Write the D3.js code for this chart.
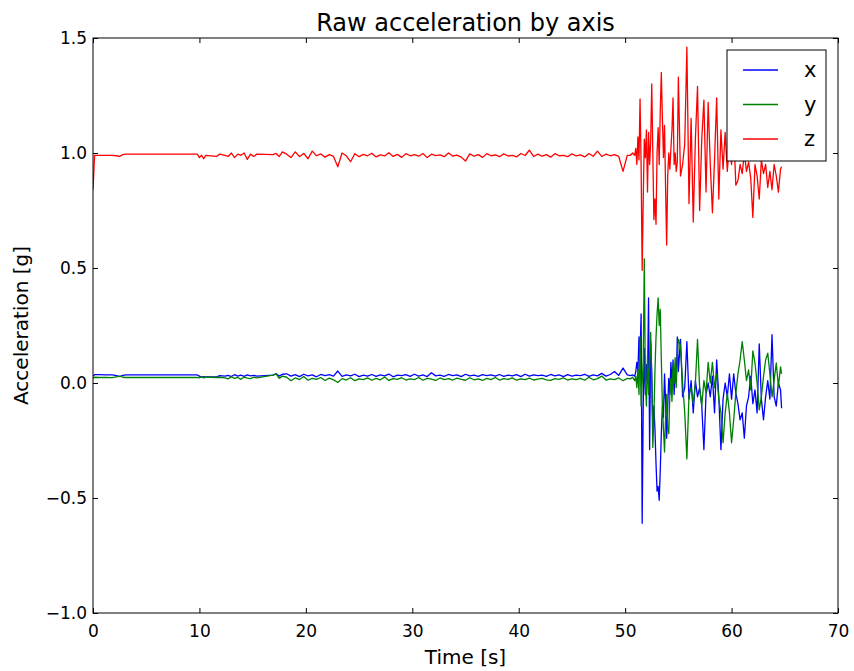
<!DOCTYPE html>
<html>
<head>
<meta charset="utf-8">
<script src="https://cdn.jsdelivr.net/npm/d3@7"></script>
<style>
body { margin: 0; background: #fff; }
text { font-family: "DejaVu Sans", sans-serif; }
</style>
</head>
<body>
<svg id="chart"></svg>
<script>
// sample times [s]
var time = [
  0, 0.15, 0.6, 1.2, 1.8, 2.2, 2.5, 2.8, 3.1,
  9.8, 10.0, 10.2, 10.4, 10.6, 11.6, 11.9,
  12.4, 12.7, 13.0, 13.3, 13.6, 13.9, 14.2, 14.5, 14.8, 15.1, 15.4,
  16.9, 17.2, 17.5, 17.8,
  18.2, 18.6, 19.0, 19.4, 19.8, 20.2, 20.6, 21.0, 21.4, 21.8,
  22.2, 22.6, 23.0, 23.4, 23.8, 24.2, 24.6, 25.0, 25.4, 25.8,
  26.2, 26.6, 27.0, 27.4, 27.8, 28.2, 28.6, 29.0, 29.4, 29.8,
  30.2, 30.6, 31.0, 31.4, 31.8, 32.2, 32.6, 33.0, 33.4, 33.8,
  34.2, 34.6, 35.0, 35.4, 35.8, 36.2, 36.6, 37.0, 37.4, 37.8,
  38.2, 38.6, 39.0, 39.4, 39.8, 40.2, 40.6, 41.0, 41.4, 41.8,
  42.2, 42.6, 43.0, 43.4, 43.8, 44.2, 44.6, 45.0, 45.4, 45.8,
  46.2, 46.6, 47.0, 47.4, 47.8, 48.2, 48.6, 49.0, 49.4, 49.8,
  50.2,
  50.5, 50.7, 50.9,
  51.0, 51.1, 51.2, 51.3, 51.4, 51.5, 51.6, 51.7, 51.8, 51.9,
  52.0, 52.1, 52.2, 52.3, 52.4, 52.5, 52.6, 52.7, 52.8, 52.9,
  53.0, 53.1, 53.2, 53.3, 53.4, 53.5, 53.6, 53.7, 53.8, 53.9,
  54.0, 54.1, 54.2, 54.3, 54.4, 54.5, 54.6, 54.7, 54.8, 54.9,
  55.0,
  55.2, 55.4, 55.6, 55.8, 56.0, 56.2, 56.4, 56.6, 56.8, 57.0,
  57.2, 57.4, 57.6, 57.8, 58.0, 58.2, 58.4, 58.6, 58.8, 59.0,
  59.2, 59.4, 59.6, 59.8, 60.0, 60.2, 60.4, 60.6, 60.8, 61.0,
  61.2, 61.4, 61.6, 61.8, 62.0, 62.2, 62.4, 62.6, 62.8, 63.0,
  63.2, 63.4, 63.6, 63.8, 64.0, 64.2, 64.4, 64.6, 64.7
];

var accX = [
  0.03, 0.036, 0.036, 0.035, 0.035, 0.032, 0.028, 0.033, 0.035,
  0.035, 0.03, 0.025, 0.028, 0.026, 0.026, 0.032,
  0.03, 0.033, 0.028, 0.036, 0.03, 0.034, 0.029, 0.035, 0.031, 0.033, 0.03,
  0.034, 0.04, 0.03, 0.038,
  0.04, 0.03, 0.036, 0.028, 0.038, 0.031, 0.035, 0.027, 0.037, 0.032,
  0.036, 0.03, 0.052, 0.029, 0.035, 0.031, 0.038, 0.028, 0.034, 0.03,
  0.037, 0.029, 0.035, 0.031, 0.039, 0.027, 0.034, 0.032, 0.036, 0.029,
  0.038, 0.03, 0.035, 0.028, 0.045, 0.031, 0.034, 0.029, 0.037, 0.032,
  0.035, 0.028, 0.038, 0.031, 0.034, 0.029, 0.036, 0.032, 0.035, 0.03,
  0.037, 0.029, 0.034, 0.031, 0.036, 0.028, 0.038, 0.03, 0.035, 0.032,
  0.034, 0.029, 0.037, 0.031, 0.035, 0.028, 0.036, 0.03, 0.034, 0.032,
  0.038, 0.029, 0.035, 0.031, 0.042, 0.03, 0.037, 0.05, 0.033, 0.065,
  0.035,
  0.032, 0.035, 0.03,
  0.05, 0.09, 0.05, 0.2, 0.12, 0.30, -0.61, -0.1, 0.15, -0.05,
  0.08, 0.0, 0.37, -0.29, 0.18, 0.05, -0.2, -0.1, -0.2, -0.35,
  -0.47, -0.45, -0.51, -0.38, -0.22, -0.1, -0.15, 0.04, -0.08, -0.24,
  -0.1, 0.02, -0.05, 0.09, 0.0, 0.1, -0.05, 0.05, 0.0, 0.2,
  0.05,
  0.19, -0.06, -0.02, 0.18, -0.07, 0.01, -0.13, 0.01, -0.06, -0.02,
  -0.1, -0.29, -0.05, 0.0, -0.06, 0.03, -0.13, 0.10, -0.06, -0.29,
  -0.07, 0.0, -0.06, 0.04, -0.07, 0.04, -0.045, -0.09, -0.16, -0.13,
  -0.24, -0.10, -0.06, 0.03, -0.09, -0.03, -0.13, 0.17, -0.07, -0.16,
  -0.06, 0.01, -0.07, 0.21, -0.06, -0.10, 0.0, -0.03, -0.11
];

var accY = [
  0.02, 0.025, 0.024, 0.024, 0.023, 0.027, 0.03, 0.025, 0.024,
  0.024, 0.022, 0.028, 0.022, 0.026, 0.024, 0.025,
  0.022, 0.018, 0.027, 0.02, 0.024, 0.016, 0.026, 0.021, 0.019, 0.025, 0.022,
  0.034, 0.04, 0.02, 0.03,
  0.025, 0.01, 0.022, 0.015, 0.028, 0.012, 0.02, 0.016, 0.024, 0.011,
  0.021, 0.014, 0.002, 0.019, 0.013, 0.023, 0.01, 0.018, 0.015, 0.022,
  0.012, 0.02, 0.014, 0.026, 0.011, 0.019, 0.016, 0.023, 0.013, 0.018,
  0.015, 0.024, 0.012, 0.02, 0.017, 0.011, 0.022, 0.015, 0.019, 0.013,
  0.021, 0.016, 0.012, 0.023, 0.014, 0.018, 0.011, 0.02, 0.015, 0.024,
  0.013, 0.019, 0.016, 0.022, 0.012, 0.018, 0.015, 0.021, 0.013, 0.017,
  0.02, 0.014, 0.011, 0.019, 0.016, 0.022, 0.013, 0.018, 0.015, 0.02,
  0.012, 0.025, 0.014, 0.019, 0.03, 0.013, 0.018, 0.015, 0.022, 0.01,
  0.02,
  0.018, 0.025, 0.01,
  0.03, -0.02, 0.06, -0.05, 0.2, -0.1, 0.0, 0.1, 0.54, 0.0,
  -0.1, 0.12, -0.05, 0.1, 0.22, 0.0, -0.28, -0.15, 0.05, 0.2,
  0.3, 0.37, 0.25, 0.32, 0.1, -0.1, -0.2, -0.30, -0.15, -0.05,
  -0.2, -0.22, -0.05, 0.02, -0.08, 0.08, 0.0, 0.11, -0.02, 0.12,
  0.19,
  0.16, 0.0, -0.13, -0.33, -0.05, -0.02, -0.09, 0.0, 0.19, -0.02,
  -0.10, 0.01, -0.045, 0.09, 0.0, 0.09, -0.02, 0.04, -0.07, -0.13,
  -0.26, -0.13, -0.045, -0.13, -0.26, -0.16, -0.045, 0.04, 0.1, 0.18,
  0.1, 0.01, 0.057, -0.03, 0.14, 0.087, 0.0, -0.117, -0.06, 0.027,
  0.10, 0.13, 0.04, -0.06, 0.013, 0.087, -0.016, 0.07, 0.04
];

var accZ = [
  0.84, 0.99, 0.99, 0.99, 0.99, 0.988, 0.985, 0.993, 0.995,
  0.995, 0.98, 0.99, 0.975, 0.99, 0.985, 0.995,
  0.99, 0.985, 1.0, 0.98, 0.995, 0.99, 1.0, 0.972, 0.995, 0.985, 0.995,
  0.993, 0.998, 0.985, 1.005,
  0.995, 0.98, 1.005, 0.985, 0.998, 0.975, 1.008, 0.988, 0.996, 0.982,
  0.993, 0.985, 0.94, 1.0, 0.988, 0.962, 0.997, 0.984, 0.994, 0.988,
  0.999, 0.983, 0.992, 0.987, 1.001, 0.985, 0.994, 0.981, 0.997, 0.988,
  0.993, 0.986, 0.998, 0.98, 0.995, 0.989, 0.992, 0.984, 1.0, 0.987,
  0.991, 0.982, 0.965, 0.996, 0.986, 0.993, 0.981, 0.997, 0.988, 0.992,
  0.984, 0.996, 0.987, 0.99, 0.983, 0.998, 0.989, 1.012, 0.985, 0.995,
  0.986, 0.993, 0.982, 0.997, 0.988, 0.99, 0.984, 0.996, 0.987, 0.992,
  0.983, 0.998, 0.986, 1.008, 0.985, 0.995, 0.988, 0.993, 0.985, 0.92,
  0.99,
  0.99, 1.0, 0.99,
  1.02, 0.95, 1.07, 0.97, 1.235, 0.95, 0.49, 0.8, 1.06, 0.98,
  1.1, 0.83, 1.09, 0.95, 1.05, 1.30, 1.0, 0.71, 0.8, 0.69,
  1.0, 1.11, 0.95, 1.18, 1.35, 1.15, 0.98, 1.12, 0.85, 0.60,
  0.9, 1.0, 0.93, 1.02, 1.1, 1.24, 0.95, 1.0, 0.92, 0.96,
  1.33,
  0.9, 0.95, 1.04, 1.46, 0.78, 1.15, 0.70, 1.06, 1.29, 0.75,
  1.06, 1.23, 0.83, 1.22, 0.95, 0.74, 0.97, 1.24, 0.80, 1.1,
  0.93, 1.09, 0.92, 1.05, 0.95, 1.1, 0.86, 0.88, 0.95, 0.91,
  1.0, 0.92, 0.96, 0.89, 0.72, 0.95, 0.9, 0.80, 0.97, 0.91,
  0.95, 0.85, 0.92, 0.84, 0.95, 0.9, 0.83, 0.93, 0.94
];

var seriesNames = ["x", "y", "z"];
var seriesColors = ["#0000ff", "#008000", "#ff0000"];
var xTicks = [0, 10, 20, 30, 40, 50, 60, 70];
var yTicks = [-1.0, -0.5, 0.0, 0.5, 1.0, 1.5];

var width = 854, height = 671;
var margin = {top: 38, right: 16, bottom: 58, left: 93};
var innerW = width - margin.left - margin.right,
    innerH = height - margin.top - margin.bottom;

var svg = d3.select("#chart").attr("width", width).attr("height", height);

var x = d3.scaleLinear().domain([0, 70]).range([0, innerW]);
var y = d3.scaleLinear().domain([-1.0, 1.5]).range([innerH, 0]);

var g = svg.append("g").attr("transform", "translate(" + margin.left + "," + margin.top + ")");

svg.append("defs").append("clipPath").attr("id", "plot-clip")
  .append("rect").attr("width", innerW).attr("height", innerH);

var series = [accX, accY, accZ];
var line = d3.line()
  .x(function(d, i) { return x(time[i]); })
  .y(function(d) { return y(d); });

var plot = g.append("g").attr("clip-path", "url(#plot-clip)");
series.forEach(function(vals, k) {
  plot.append("path")
    .datum(vals)
    .attr("fill", "none")
    .attr("stroke", seriesColors[k])
    .attr("stroke-width", 1.3)
    .attr("stroke-linejoin", "round")
    .attr("d", line);
});

// axes, ticks pointing inwards on all four sides
var fmt = d3.format(".1f");
var axB = g.append("g").attr("transform", "translate(0," + innerH + ")")
  .call(d3.axisBottom(x).tickValues(xTicks).tickSize(-5).tickPadding(12));
var axT = g.append("g")
  .call(d3.axisTop(x).tickValues(xTicks).tickSize(-5).tickFormat(""));
var axL = g.append("g")
  .call(d3.axisLeft(y).tickValues(yTicks).tickSize(-5).tickPadding(6).tickFormat(fmt));
var axR = g.append("g").attr("transform", "translate(" + innerW + ",0)")
  .call(d3.axisRight(y).tickValues(yTicks).tickSize(-5).tickFormat(""));

[axB, axT, axL, axR].forEach(function(a) {
  a.select(".domain").remove();
  a.selectAll("line").attr("stroke", "#000").attr("stroke-width", 1);
  a.selectAll("text").attr("fill", "#000").style("font-size", "17px")
    .style("font-family", "'DejaVu Sans', sans-serif");
});

g.append("rect")
  .attr("width", innerW).attr("height", innerH)
  .attr("fill", "none").attr("stroke", "#000").attr("stroke-width", 1);

// title and axis labels
svg.append("text")
  .attr("x", margin.left + innerW / 2).attr("y", 31)
  .attr("text-anchor", "middle").style("font-size", "24px")
  .text("Raw acceleration by axis");

svg.append("text")
  .attr("x", margin.left + innerW / 2).attr("y", 664)
  .attr("text-anchor", "middle").style("font-size", "20px")
  .text("Time [s]");

svg.append("text")
  .attr("transform", "translate(28," + (margin.top + innerH / 2) + ") rotate(-90)")
  .attr("text-anchor", "middle").style("font-size", "20px")
  .text("Acceleration [g]");

// legend
var legend = svg.append("g").attr("transform", "translate(727,50)");
legend.append("rect")
  .attr("width", 99).attr("height", 111)
  .attr("fill", "#fff").attr("stroke", "#000").attr("stroke-width", 1);

seriesNames.forEach(function(name, k) {
  var ly = 20 + k * 34.5;
  legend.append("line")
    .attr("x1", 16).attr("x2", 51).attr("y1", ly).attr("y2", ly)
    .attr("stroke", seriesColors[k]).attr("stroke-width", 1.3);
  legend.append("text")
    .attr("x", 77).attr("y", ly + 7)
    .style("font-size", "21px")
    .text(name);
});
</script>
</body>
</html>
